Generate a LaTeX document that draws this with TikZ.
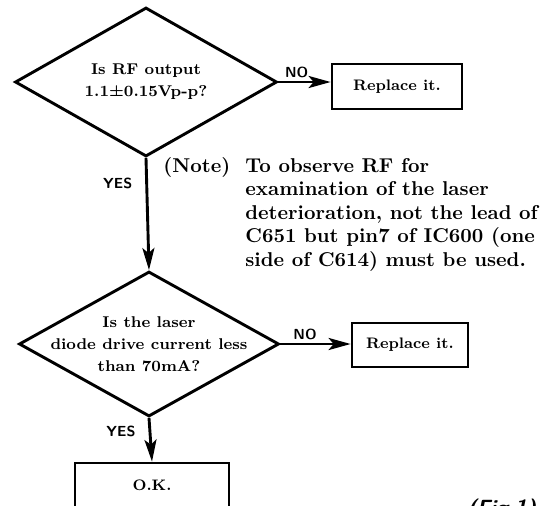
\documentclass[tikz,border=0pt]{standalone}
\usepackage{tikz}
\usetikzlibrary{positioning,calc}
\usetikzlibrary{arrows.meta,shapes.geometric}
\tikzset{
  decision/.style={diamond,draw=black,line width=1.45pt,minimum width=131pt,minimum height=74.5pt,inner sep=0pt},
  qtext/.style={align=center,font=\fontsize{7.8}{10.9}\selectfont\bfseries,inner sep=0pt},
  act/.style={rectangle,draw=black,line width=1.35pt,font=\fontsize{7.6}{9}\selectfont\bfseries},
  flow/.style={draw=black,line width=1.45pt,-{Stealth[length=11pt,width=6pt,inset=2.5pt]}},
}
\tikzset{yn/.style={font=\fontsize{7.3}{8}\selectfont\sffamily\bfseries,inner sep=1.5pt}, notetext/.style={align=left,font=\fontsize{10}{11.75}\selectfont\bfseries,inner sep=0pt}, figlab/.style={font=\fontsize{11}{12}\selectfont\sffamily\bfseries\itshape,inner sep=0pt}}

\begin{document}
\begin{tikzpicture}[x=0.5pt,y=-0.5pt]
\useasboundingbox (0,0) rectangle (547,505);
\clip (0,0) rectangle (547,505);
\coordinate (c1) at (146,82);
\coordinate (c2) at (149,344);
\coordinate (b1) at (397,86.5);
\coordinate (b2) at (410,345);
\coordinate (b3) at (152,493);
\node[decision,label={[qtext,name=q1]center:{Is RF output\\1.1±0.15Vp-p?}}] (d1) at (c1) {};
\node[decision,minimum width=130pt,minimum height=72.5pt,label={[qtext,name=q2]center:{Is the laser\\diode drive current less\\than 70mA?}}] (d2) at (c2) {};
\node[act,minimum width=65pt,minimum height=22.5pt] (r1) at (b1) {Replace it.};
\node[act,minimum width=58pt,minimum height=22pt] (r2) at (b2) {Replace it.};
\node[act,minimum width=77pt,minimum height=30pt] (ok) at (b3) {\raisebox{8pt}{O.K.}};
\draw[flow] (d1.east) -- (d1.east -| r1.west) node[yn,above,pos=0.35] (no1) {NO};
\draw[flow] (d2.east) -- (d2.east -| r2.west) node[yn,above,pos=0.35] (no2) {NO};
\draw[flow] (d1.south) -- (d2.north) node[yn,left=5pt,pos=0.23] (yes1) {YES};
\draw[flow] (d2.south) -- (ok.north) node[yn,left=5pt,pos=0.3] (yes2) {YES};
\node[notetext,anchor=north west] (notebody) at (245,158) {To observe RF for\\examination of the laser\\deterioration, not the lead of\\C651 but pin7 of IC600 (one\\side of C614) must be used.};
\node[notetext,anchor=base west] (notehead) at (163,172.5) {(Note)};
\node[figlab,anchor=north west] (fig) at (467,499) {(Fig.1)};
\end{tikzpicture}
\end{document}
